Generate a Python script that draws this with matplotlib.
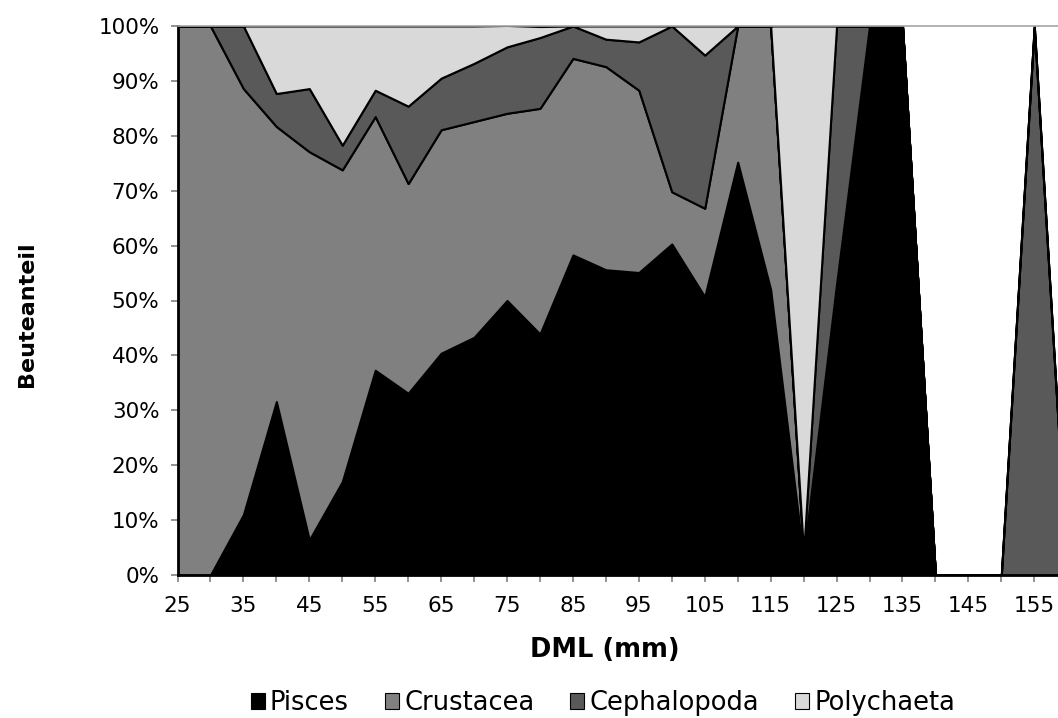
import matplotlib
matplotlib.use("Agg")
import matplotlib.pyplot as plt
from matplotlib.patches import Patch
import numpy as np

# DML categories (mm)
dml = [25, 30, 35, 40, 45, 50, 55, 60, 65, 70, 75, 80, 85, 90, 95, 100,
       105, 110, 115, 120, 125, 130, 135, 140, 145, 150, 155, 160]

# Prey proportions (%)
pisces = [0, 0, 11, 31.6, 6.4, 17, 37.3, 33.1, 40.4, 43.3, 50.0, 43.9, 58.3, 55.6, 55.1, 60.3,
          50.7, 75.2, 52, 3, 50, 100, 100, 0, 0, 0, 0, 0]
crustacea = [100, 100, 77.6, 50.1, 70.7, 56.8, 46.2, 38.2, 40.7, 39.3, 34.1, 41.1, 35.8, 37.0, 33.2, 9.5,
             16.1, 24.8, 48, 0.5, 3, 0, 0, 0, 0, 0, 0, 0]
cephalopoda = [0, 0, 11.4, 6.0, 11.5, 4.5, 4.8, 14.1, 9.4, 10.6, 12.1, 12.9, 5.9, 5.0, 8.8, 30.2,
               27.9, 0, 0, 0.5, 47, 0, 0, 0, 0, 0, 100, 0]
polychaeta = [0, 0, 0, 12.3, 11.4, 21.7, 11.7, 14.6, 9.5, 6.8, 3.9, 2.0, 0, 2.4, 2.9, 0,
              5.3, 0, 0, 96, 0, 0, 0, 0, 0, 0, 0, 0]

series_names = ["Pisces", "Crustacea", "Cephalopoda", "Polychaeta"]
series_colors = ["#000000", "#808080", "#595959", "#d9d9d9"]

xticks = list(range(25, 160, 5))
xlabels = [str(v) if (v - 25) % 10 == 0 else "" for v in xticks]
yticks = list(range(0, 101, 10))
ylabels = [f"{v}%" for v in yticks]

W, H = 1058, 718
fig = plt.figure(figsize=(W / 100, H / 100), dpi=100)
ax = fig.add_axes([177.5 / W, 143 / H, (W - 177.5) / W, 549 / H])

ax.stackplot(dml, pisces, crustacea, cephalopoda, polychaeta,
             colors=series_colors, edgecolor="black", linewidth=1.5)

ax.set_xlim(25, 158.6)
ax.set_ylim(0, 100)
ax.set_xticks(xticks)
ax.set_xticklabels(xlabels)
ax.set_yticks(yticks)
ax.set_yticklabels(ylabels)

for s in ["left", "bottom"]:
    ax.spines[s].set_color("black")
    ax.spines[s].set_linewidth(2)
ax.spines["right"].set_visible(False)
ax.spines["top"].set_color("#a6a6a6")
ax.spines["top"].set_linewidth(1.2)

ax.tick_params(axis="both", direction="out", length=5, width=1.2, color="#808080",
               labelsize=15.5)
ax.tick_params(axis="x", pad=10)
ax.tick_params(axis="y", pad=8)

fig.text(605 / W, 1 - 650 / H, "DML (mm)", fontsize=18.5, fontweight="bold",
         ha="center", va="center")
fig.text(27 / W, 1 - 314 / H, "Beuteanteil", fontsize=16, fontweight="bold",
         ha="center", va="center", rotation=90)

handles = [Patch(facecolor=c, edgecolor="black", linewidth=0.8) for c in series_colors]
fig.legend(handles, series_names, loc="center", bbox_to_anchor=(603 / W, 15 / H),
           ncol=4, frameon=False, fontsize=18.5, handlelength=0.55, handleheight=0.55,
           handletextpad=0.2, columnspacing=1.4, borderpad=0.0)

fig.savefig("out.png", dpi=100)
